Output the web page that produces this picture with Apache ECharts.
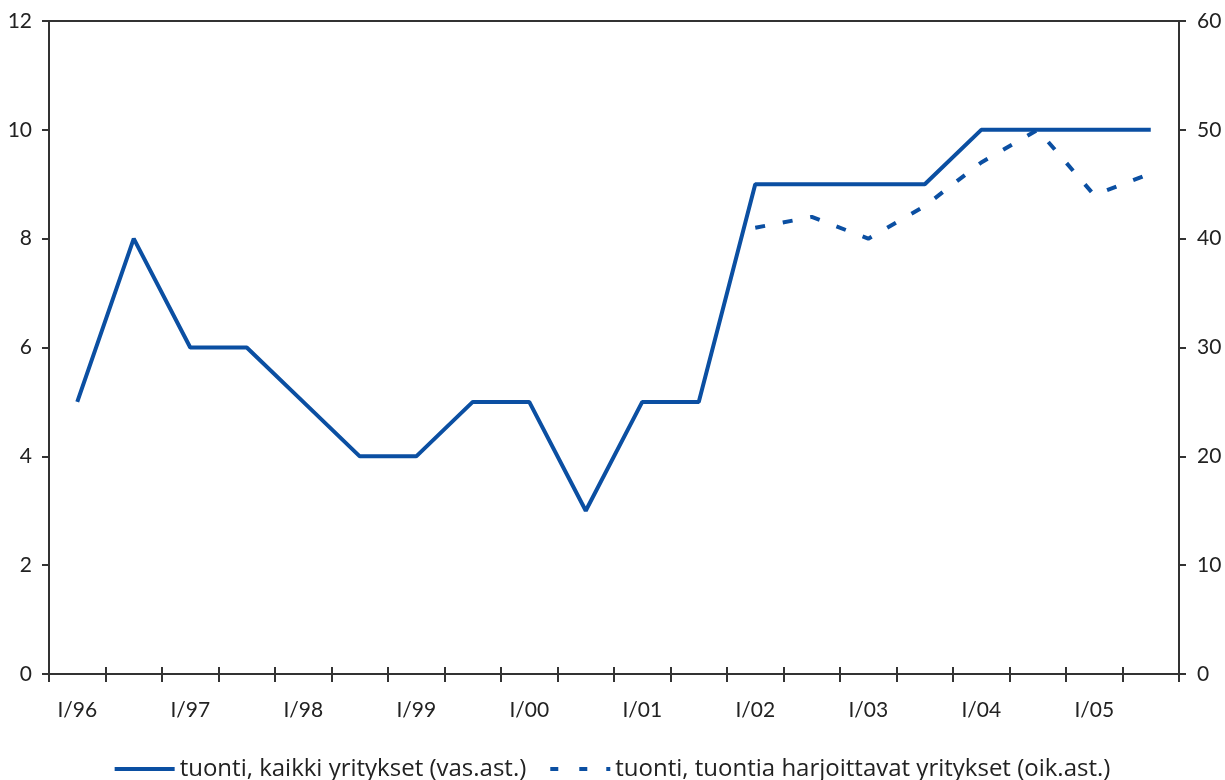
<!DOCTYPE html>
<html>
<head>
<meta charset="utf-8">
<script src="https://cdn.jsdelivr.net/npm/echarts@6/dist/echarts.min.js"></script>
<style>
html,body{margin:0;padding:0;background:#fff;}
#chart{width:1225px;height:780px;}
</style>
</head>
<body>
<div id="chart"></div>
<script>
const categories = ["I/96","II/96","I/97","II/97","I/98","II/98","I/99","II/99","I/00","II/00",
  "I/01","II/01","I/02","II/02","I/03","II/03","I/04","II/04","I/05","II/05"];
const kaikkiYritykset = [5,8,6,6,5,4,4,5,5,3,5,5,9,9,9,9,10,10,10,10];
const tuontiaHarjoittavat = [null,null,null,null,null,null,null,null,null,null,null,null,41,42,40,43,47,50,44,46];
const leftTicks = {min:0, max:12, interval:2};
const rightTicks = {min:0, max:60, interval:10};
const seriesNames = ["tuonti, kaikki yritykset (vas.ast.)","tuonti, tuontia harjoittavat yritykset (oik.ast.)"];

const blue = '#0b4fa2';
const axisColor = '#333';
const fontFam = 'Lato, "Open Sans", sans-serif';

const chart = echarts.init(document.getElementById('chart'));
chart.setOption({
  animation:false,
  backgroundColor:'#fff',
  grid:{left:49, right:46, top:21, bottom:106, show:true, borderColor:axisColor, borderWidth:2, backgroundColor:'transparent'},
  legend:{
    top:752, left:'center', itemWidth:60, itemHeight:4, itemGap:24,
    textStyle:{fontFamily:'"Open Sans", sans-serif', fontSize:24, color:'#222'},
    data:[
      {name:seriesNames[0], icon:'path://M0,0H60V4H0Z'},
      {name:seriesNames[1], icon:'path://M0,0H8V4H0Z M29,0H37V4H29Z M56,0H60V4H56Z'}
    ]
  },
  xAxis:[{
    type:'category', data:categories, boundaryGap:true, position:'bottom',
    axisLine:{lineStyle:{color:axisColor, width:2}},
    axisTick:{show:true, interval:0, alignWithLabel:false, length:8, lineStyle:{color:axisColor, width:2}},
    axisLabel:{interval:1, color:'#222', fontSize:21, fontFamily:fontFam, margin:26},
    splitLine:{show:false}
  },{
    type:'category', data:categories, boundaryGap:true, position:'bottom',
    axisLine:{show:false},
    axisTick:{show:true, inside:true, interval:0, alignWithLabel:false, length:7, lineStyle:{color:axisColor, width:2}},
    axisLabel:{show:false}, splitLine:{show:false}
  }],
  yAxis:[{
    type:'value', min:leftTicks.min, max:leftTicks.max, interval:leftTicks.interval, position:'left',
    axisLine:{show:true, lineStyle:{color:axisColor, width:2}},
    axisTick:{show:true, length:7, lineStyle:{color:axisColor, width:2}},
    axisLabel:{color:'#222', fontSize:21, fontFamily:fontFam, margin:17},
    splitLine:{show:false}
  },{
    type:'value', min:rightTicks.min, max:rightTicks.max, interval:rightTicks.interval, position:'right',
    axisLine:{show:true, lineStyle:{color:axisColor, width:2}},
    axisTick:{show:true, length:7, lineStyle:{color:axisColor, width:2}},
    axisLabel:{color:'#222', fontSize:21, fontFamily:fontFam, margin:18},
    splitLine:{show:false}
  }],
  series:[{
    name:seriesNames[0], type:'line', data:kaikkiYritykset, xAxisIndex:0, yAxisIndex:0,
    symbol:'none', lineStyle:{color:blue, width:4}, itemStyle:{color:blue}
  },{
    name:seriesNames[1], type:'line', data:tuontiaHarjoittavat, xAxisIndex:0, yAxisIndex:1,
    symbol:'none', lineStyle:{color:blue, width:4, type:[10,18]}, itemStyle:{color:blue}
  }]
});
</script>
</body>
</html>
